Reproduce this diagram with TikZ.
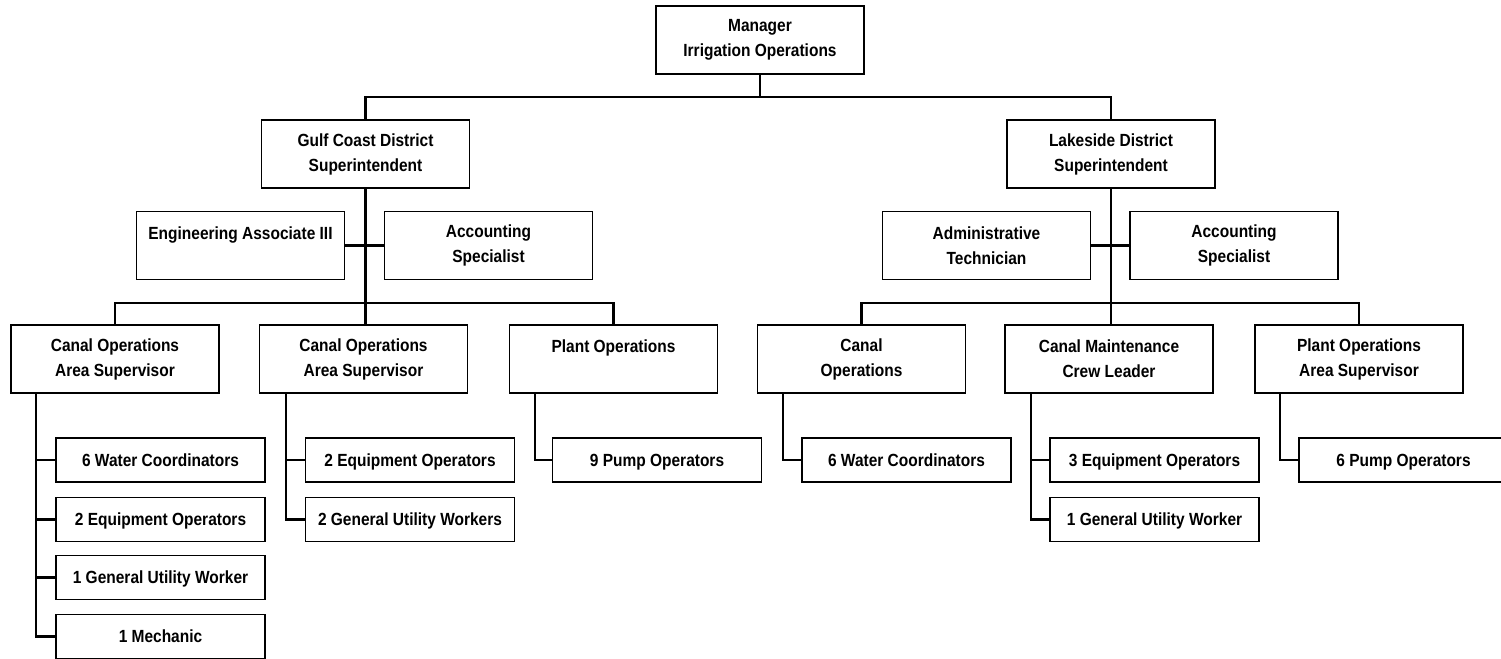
\documentclass[tikz,border=0pt]{standalone}
\usepackage{fontspec}
\setmainfont{Liberation Sans}[FakeStretch=0.88]
\usepackage{tikz}

\tikzset{
  post/.style={draw, line width=0.7pt, inner sep=0pt, align=center,
    minimum width=104pt, minimum height=34pt,
    font=\fontsize{8.8}{12.5}\selectfont\bfseries},
  crew/.style={post, minimum width=104.5pt, minimum height=22pt,
    text height=6.3pt, text depth=0pt},
  link/.style={line width=1.1pt}
}

\begin{document}
\begin{tikzpicture}[x=0.5pt, y=-0.5pt]
\useasboundingbox (0,0) rectangle (1501,659);
% top
\node [post] (mgr) at (760, 40) {Manager\\Irrigation Operations};
\coordinate (top) at (760, 97);
\node [post] (gulf) at (365.5, 154) {Gulf Coast District\\Superintendent};
\node [post] (lake) at (1111, 154) {Lakeside District\\Superintendent};
\draw [link] (mgr.south) -- (top);
\draw [link] (gulf.north) -- (gulf.north |- top) -- (lake.north |- top) -- (lake.north);

% staff
\node [post] (eng) at (240.5, 245.5) {Engineering Associate III\\~};
\node [post] (accG) at (488.5, 245.5) {Accounting\\Specialist};
\node [post] (adm) at (986.5, 245.5) {Administrative\\Technician};
\node [post] (accL) at (1234, 245.5) {Accounting\\Specialist};
\draw [link] (eng.east) -- (accG.west);
\draw [link] (adm.east) -- (accL.west);

% areas
\coordinate (mid) at (0, 303);
\node [post] (canA) at (115, 359) {Canal Operations\\Area Supervisor};
\node [post] (canB) at (363.5, 359) {Canal Operations\\Area Supervisor};
\node [post] (plantG) at (613.5, 359) {Plant Operations\\~};
\node [post] (canL) at (861.5, 359) {Canal\\Operations};
\node [post] (maint) at (1109, 359) {Canal Maintenance\\Crew Leader};
\node [post] (plantL) at (1359, 359) {Plant Operations\\Area Supervisor};
\draw [link] (gulf.south) -- (gulf.south |- canB.north);
\draw [link] (canA.north) -- (canA.north |- mid) -- (plantG.north |- mid) -- (plantG.north);
\draw [link] (lake.south) -- (lake.south |- maint.north);
\draw [link] (canL.north) -- (canL.north |- mid) -- (plantL.north |- mid) -- (plantL.north);

% crews
\node [crew] (a1) at (160.5, 460) {6 Water Coordinators};
\node [crew] (a2) at (160.5, 519.5) {2 Equipment Operators};
\node [crew] (a3) at (160.5, 577.5) {1 General Utility Worker};
\node [crew] (a4) at (160.5, 636.5) {1 Mechanic};
\node [crew] (b1) at (410, 460) {2 Equipment Operators};
\node [crew] (b2) at (410, 519.5) {2 General Utility Workers};
\node [crew] (c1) at (657, 460) {9 Pump Operators};
\node [crew] (d1) at (906.5, 460) {6 Water Coordinators};
\node [crew] (e1) at (1154.5, 460) {3 Equipment Operators};
\node [crew] (e2) at (1154.5, 519.5) {1 General Utility Worker};
\node [crew] (f1) at (1403.5, 460) {6 Pump Operators};

\coordinate (sa) at (36, 0);
\coordinate (sb) at (286, 0);
\coordinate (sc) at (535, 0);
\coordinate (sd) at (783, 0);
\coordinate (se) at (1031, 0);
\coordinate (sf) at (1280, 0);
\draw [link] (sa |- canA.south) |- (a4.west);
\draw [link] (sa |- a1) -- (a1.west);
\draw [link] (sa |- a2) -- (a2.west);
\draw [link] (sa |- a3) -- (a3.west);
\draw [link] (sb |- canB.south) |- (b2.west);
\draw [link] (sb |- b1) -- (b1.west);
\draw [link] (sc |- plantG.south) |- (c1.west);
\draw [link] (sd |- canL.south) |- (d1.west);
\draw [link] (se |- maint.south) |- (e2.west);
\draw [link] (se |- e1) -- (e1.west);
\draw [link] (sf |- plantL.south) |- (f1.west);
\end{tikzpicture}
\end{document}
